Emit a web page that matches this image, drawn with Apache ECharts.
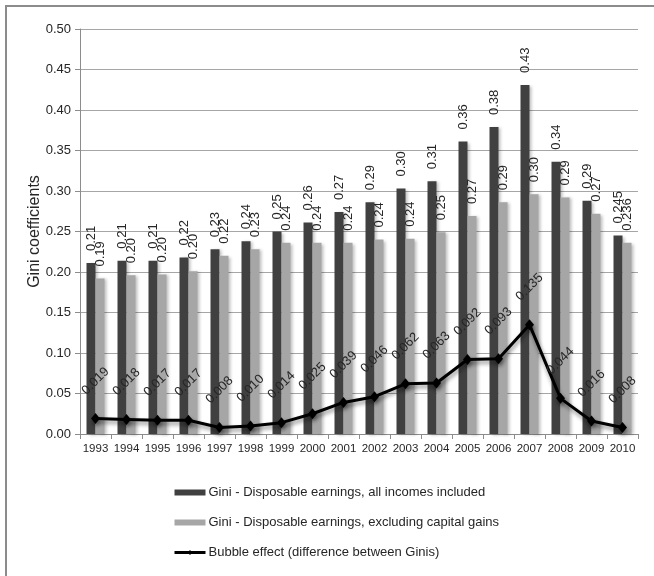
<!DOCTYPE html>
<html>
<head>
<meta charset="utf-8">
<script src="https://cdn.jsdelivr.net/npm/echarts@6/dist/echarts.min.js"></script>
<style>
  html, body { margin: 0; padding: 0; background: #fff; }
  #chart { width: 654px; height: 576px; }
</style>
</head>
<body>
<div id="chart"></div>
<script>
// Years on the category axis
var years = ['1993','1994','1995','1996','1997','1998','1999','2000','2001',
             '2002','2003','2004','2005','2006','2007','2008','2009','2010'];

// Gini - disposable earnings, all incomes included
var giniAll = [0.211,0.214,0.214,0.218,0.228,0.238,0.250,0.261,0.274,
               0.286,0.303,0.312,0.361,0.379,0.431,0.336,0.288,0.245];

// Gini - disposable earnings, excluding capital gains
var giniExCap = [0.192,0.196,0.197,0.201,0.220,0.228,0.236,0.236,0.236,
                 0.240,0.241,0.249,0.269,0.286,0.296,0.292,0.272,0.236];

// Bubble effect (difference between the two Ginis)
var bubble = [0.019,0.018,0.017,0.017,0.008,0.010,0.014,0.025,0.039,
              0.046,0.062,0.063,0.092,0.093,0.135,0.044,0.016,0.008];

// Y axis ticks
var yMin = 0, yMax = 0.5, yStep = 0.05;

var seriesNames = [
  'Gini - Disposable earnings, all incomes included',
  'Gini - Disposable earnings, excluding capital gains',
  'Bubble effect (difference between Ginis)'
];

var FONT = "'Liberation Sans', Arial, sans-serif";

function barLabel(p) {
  // last year is shown with three decimals
  return p.dataIndex === years.length - 1 ? p.value.toFixed(3) : p.value.toFixed(2);
}

var barLabelStyle = {
  show: true,
  position: 'top',
  distance: 12,
  rotate: 90,
  align: 'left',
  verticalAlign: 'middle',
  fontFamily: FONT,
  fontSize: 13,
  color: '#262626',
  formatter: barLabel
};

var chart = echarts.init(document.getElementById('chart'), null, { renderer: 'canvas' });

chart.setOption({
  animation: false,
  backgroundColor: '#fff',
  textStyle: { fontFamily: FONT },
  grid: { left: 80, right: 16, top: 29, bottom: 142 },
  legend: {
    orient: 'vertical',
    left: 168,
    top: 481,
    itemWidth: 31,
    itemHeight: 6,
    itemGap: 17,
    textStyle: { fontFamily: FONT, fontSize: 13, color: '#262626', padding: [0, 0, 0, -2] },
    data: [
      { name: seriesNames[0], icon: 'rect' },
      { name: seriesNames[1], icon: 'rect' },
      { name: seriesNames[2], lineStyle: { width: 3, color: '#000' } }
    ]
  },
  xAxis: {
    type: 'category',
    data: years,
    boundaryGap: true,
    axisLine: { lineStyle: { color: '#8c8c8c', width: 1 } },
    axisTick: { show: true, length: 5, lineStyle: { color: '#8c8c8c' } },
    axisLabel: { interval: 0, fontFamily: FONT, fontSize: 11.5, color: '#262626', margin: 9 },
    splitLine: { show: false }
  },
  yAxis: {
    type: 'value',
    min: yMin,
    max: yMax,
    interval: yStep,
    name: 'Gini coefficients',
    nameLocation: 'middle',
    nameGap: 37,
    nameMoveOverlap: false,
    nameTextStyle: { fontFamily: FONT, fontSize: 16, color: '#262626' },
    axisLine: { show: true, lineStyle: { color: '#8c8c8c', width: 1 } },
    axisTick: { show: true, length: 5, lineStyle: { color: '#8c8c8c' } },
    axisLabel: {
      fontFamily: FONT, fontSize: 13, color: '#262626', margin: 9,
      formatter: function (v) { return v.toFixed(2); }
    },
    splitLine: { show: true, lineStyle: { color: '#a6a6a6', width: 1 } }
  },
  series: [
    {
      name: seriesNames[0],
      type: 'bar',
      data: giniAll,
      barWidth: 9,
      barGap: '0%',
      itemStyle: {
        color: '#404040',
        shadowColor: 'rgba(0,0,0,0.25)', shadowBlur: 3, shadowOffsetX: 2, shadowOffsetY: 1
      },
      label: barLabelStyle,
      z: 2
    },
    {
      name: seriesNames[1],
      type: 'bar',
      data: giniExCap,
      barWidth: 9,
      barGap: '0%',
      itemStyle: {
        color: '#a6a6a6',
        shadowColor: 'rgba(0,0,0,0.25)', shadowBlur: 3, shadowOffsetX: 2, shadowOffsetY: 1
      },
      label: barLabelStyle,
      z: 2
    },
    {
      name: seriesNames[2],
      type: 'line',
      data: bubble,
      symbol: 'diamond',
      symbolSize: [9, 11],
      lineStyle: {
        color: '#000', width: 3,
        shadowColor: 'rgba(0,0,0,0.45)', shadowBlur: 4, shadowOffsetX: 1, shadowOffsetY: 3
      },
      itemStyle: {
        color: '#000',
        shadowColor: 'rgba(0,0,0,0.45)', shadowBlur: 4, shadowOffsetX: 1, shadowOffsetY: 3
      },
      label: {
        show: true,
        position: 'top',
        distance: 32,
        rotate: 45,
        align: 'center',
        verticalAlign: 'middle',
        fontFamily: FONT,
        fontSize: 13,
        color: '#262626',
        formatter: function (p) { return p.value.toFixed(3); }
      },
      z: 5
    }
  ],
  graphic: [
    { type: 'line', shape: { x1: 5, y1: 6, x2: 654, y2: 6 }, style: { stroke: '#8c8c8c', lineWidth: 2 }, silent: true },
    { type: 'line', shape: { x1: 6, y1: 6, x2: 6, y2: 576 }, style: { stroke: '#8c8c8c', lineWidth: 2 }, silent: true }
  ]
});
</script>
</body>
</html>
